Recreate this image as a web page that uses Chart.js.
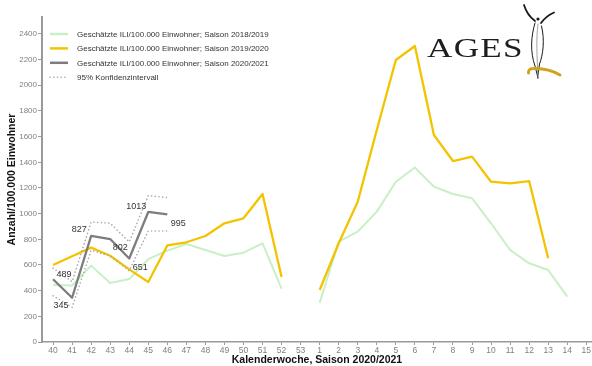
<!DOCTYPE html>
<html>
<head>
<meta charset="utf-8">
<script src="https://cdn.jsdelivr.net/npm/chart.js@4.4.0/dist/chart.umd.min.js"></script>
<style>
  html, body { margin: 0; padding: 0; background: #fff; }
  canvas { display: block; }
</style>
</head>
<body>
<canvas id="c" width="592" height="366"></canvas>
<script>
// Kalenderwochen of the season (week 53 has no values)
const weeks = ['40','41','42','43','44','45','46','47','48','49','50','51','52','53',
               '1','2','3','4','5','6','7','8','9','10','11','12','13','14','15'];

// Geschätzte ILI/100.000 Einwohner per season
const season1819 = [445, 440, 595, 460, 490, 645, 712, 763, 717, 670, 696, 769, 415, null,
                    305, 782, 860, 1016, 1249, 1360, 1211, 1153, 1120, 925, 717, 613, 561, 353, null];
const season1920 = [600, 668, 735, 672, 566, 468, 752, 777, 826, 925, 964, 1153, 506, null,
                    405, 769, 1093, 1652, 2197, 2306, 1613, 1410, 1444, 1249, 1236, 1254, 652, null, null];
const season2021 = [489, 345, 827, 802, 651, 1013, 995, null, null, null, null, null, null, null,
                    null, null, null, null, null, null, null, null, null, null, null, null, null, null, null];

// 95% Konfidenzintervall for 2020/2021
const ciUpper = [575, 470, 935, 925, 780, 1140, 1125];
const ciLower = [360, 270, 715, 670, 555, 865, 865];

// y axis tick values
const yTicks = [0, 200, 400, 600, 800, 1000, 1200, 1400, 1600, 1800, 2000, 2200, 2400];

// where each value label sits relative to its point (dx, dy)
const labelNudge = [[11, -5], [-11, 8], [-12, -6], [10, 8], [11, 9], [-12, -5], [11, 9]];

const FONT = '"Liberation Sans", Arial, Helvetica, sans-serif';
Chart.defaults.font.family = FONT;

const toPoints = arr => arr.map((y, i) => ({ x: i, y: y }));

const seriesLabel = s => 'Geschätzte ILI/100.000 Einwohner; Saison ' + s;

const datasets = [
  { label: seriesLabel('2018/2019'), data: toPoints(season1819), borderColor: '#c9efc6',
    borderWidth: 2, order: 4 },
  { label: seriesLabel('2019/2020'), data: toPoints(season1920), borderColor: '#f3c300',
    borderWidth: 2.3, order: 3 },
  { label: seriesLabel('2020/2021'), data: toPoints(season2021), borderColor: '#7d7d7d',
    borderWidth: 2.3, order: 0, valueLabels: true },
  { label: '95% Konfidenzintervall', data: toPoints(ciUpper), borderColor: '#a9a9a9',
    borderWidth: 1.6, borderDash: [0.1, 3.6], borderCapStyle: 'round', order: 1 },
  { label: '95% Konfidenzintervall', data: toPoints(ciLower), borderColor: '#a9a9a9',
    borderWidth: 1.6, borderDash: [0.1, 3.6], borderCapStyle: 'round', order: 2, inLegend: false }
];
datasets.forEach(d => {
  d.pointRadius = 0;
  d.pointHoverRadius = 0;
  d.tension = 0;
  d.spanGaps = false;
  d.fill = false;
  d.borderJoinStyle = 'round';
});

// Value labels on the 2020/2021 line
const valueLabelPlugin = {
  id: 'valueLabels',
  afterDatasetsDraw(chart) {
    const ctx = chart.ctx;
    chart.data.datasets.forEach((ds, di) => {
      if (!ds.valueLabels) return;
      const meta = chart.getDatasetMeta(di);
      ctx.save();
      ctx.font = '9px ' + FONT;
      ctx.fillStyle = '#333';
      ctx.textAlign = 'center';
      ctx.textBaseline = 'middle';
      ds.data.forEach((p, j) => {
        if (p.y == null) return;
        const el = meta.data[j];
        const n = labelNudge[j] || [0, -8];
        ctx.fillText(String(p.y), el.x + n[0], el.y + n[1]);
      });
      ctx.restore();
    });
  }
};

// Legend drawn inside the plot area, top left
const insideLegendPlugin = {
  id: 'insideLegend',
  afterDraw(chart) {
    const ctx = chart.ctx;
    const x0 = chart.chartArea.left + 8;
    let y = 34;
    ctx.save();
    ctx.font = '8px ' + FONT;
    ctx.textBaseline = 'middle';
    ctx.textAlign = 'left';
    chart.data.datasets.forEach(ds => {
      if (ds.inLegend === false) return;
      ctx.beginPath();
      ctx.setLineDash(ds.borderDash || []);
      ctx.lineCap = ds.borderCapStyle || 'butt';
      ctx.strokeStyle = ds.borderColor;
      ctx.lineWidth = ds.borderDash ? 1.6 : 2.5;
      ctx.moveTo(x0, y);
      ctx.lineTo(x0 + 18, y);
      ctx.stroke();
      ctx.setLineDash([]);
      ctx.fillStyle = '#333';
      ctx.fillText(ds.label, x0 + 27, y + 0.5);
      y += 14.4;
    });
    ctx.restore();
  }
};

// AGES logo, top right
const logoPlugin = {
  id: 'logo',
  afterDraw(chart) {
    const ctx = chart.ctx;
    ctx.save();
    ctx.fillStyle = '#1e1e1e';
    ctx.font = '27px "Liberation Serif", "Times New Roman", serif';
    ctx.textBaseline = 'alphabetic';
    ctx.translate(427, 56.5);
    ctx.scale(1.3, 1);
    ctx.letterSpacing = '1px';
    ctx.fillText('AGES', 0, 0);
    ctx.restore();

    ctx.save();
    ctx.strokeStyle = '#1a1a1a';
    ctx.lineCap = 'round';
    // arms
    ctx.lineWidth = 1.8;
    ctx.beginPath();
    ctx.moveTo(524, 5);
    ctx.quadraticCurveTo(527, 15, 535, 21);
    ctx.stroke();
    ctx.beginPath();
    ctx.moveTo(554, 12.5);
    ctx.quadraticCurveTo(546, 16, 541, 23);
    ctx.stroke();
    // head
    ctx.beginPath();
    ctx.arc(538, 19, 1.6, 0, Math.PI * 2);
    ctx.fillStyle = '#1a1a1a';
    ctx.fill();
    // body outline
    ctx.lineWidth = 1;
    ctx.beginPath();
    ctx.moveTo(535, 23);
    ctx.bezierCurveTo(531, 36, 530, 52, 535, 66);
    ctx.lineTo(538, 78);
    ctx.stroke();
    ctx.beginPath();
    ctx.moveTo(541.5, 26);
    ctx.bezierCurveTo(545, 40, 543, 55, 539.5, 64);
    ctx.lineTo(537.5, 78);
    ctx.stroke();
    ctx.strokeStyle = '#8a8a8a';
    ctx.lineWidth = 0.8;
    ctx.beginPath();
    ctx.moveTo(538, 24);
    ctx.bezierCurveTo(536, 40, 537, 55, 538, 78);
    ctx.stroke();
    // gold swoosh
    ctx.strokeStyle = '#d1a21c';
    ctx.lineWidth = 3;
    ctx.beginPath();
    ctx.moveTo(528.5, 73);
    ctx.quadraticCurveTo(528, 68.5, 534, 68.5);
    ctx.quadraticCurveTo(548, 68, 560, 75);
    ctx.stroke();
    ctx.restore();
  }
};

new Chart(document.getElementById('c'), {
  type: 'line',
  data: { labels: weeks, datasets: datasets },
  plugins: [valueLabelPlugin, insideLegendPlugin, logoPlugin],
  options: {
    responsive: false,
    animation: false,
    devicePixelRatio: 1,
    layout: { padding: { top: 17, right: 0, bottom: 0, left: 0 } },
    plugins: {
      legend: { display: false },
      tooltip: { enabled: false }
    },
    scales: {
      x: {
        type: 'linear',
        min: -0.58,
        max: 28.3,
        afterBuildTicks: s => { s.ticks = weeks.map((w, i) => ({ value: i })); },
        afterFit: s => { s.height = 24; },
        ticks: {
          autoSkip: false,
          maxRotation: 0,
          padding: 1,
          color: '#808080',
          font: { size: 8.5 },
          callback: v => weeks[v]
        },
        grid: { display: true, drawOnChartArea: false, drawTicks: true, tickLength: 3, color: '#9a9a9a', lineWidth: 1 },
        border: { display: true, color: '#9a9a9a', width: 1.5 },
        title: {
          display: true,
          text: 'Kalenderwoche, Saison 2020/2021',
          color: '#111',
          font: { size: 10.5, weight: 'bold' },
          padding: { top: 0, bottom: 0 }
        }
      },
      y: {
        min: 0,
        max: 2532,
        afterBuildTicks: s => { s.ticks = yTicks.map(v => ({ value: v })); },
        afterFit: s => { s.width = 42; },
        ticks: {
          padding: 1,
          color: '#808080',
          font: { size: 8 },
          callback: v => String(v)
        },
        grid: { display: true, drawOnChartArea: false, drawTicks: true, tickLength: 4, color: '#9a9a9a', lineWidth: 1 },
        border: { display: true, color: '#9a9a9a', width: 2 },
        title: {
          display: true,
          text: 'Anzahl/100.000 Einwohner',
          color: '#111',
          font: { size: 10.5, weight: 'bold' },
          padding: { top: 6, bottom: 0 }
        }
      }
    }
  }
});
</script>
</body>
</html>
